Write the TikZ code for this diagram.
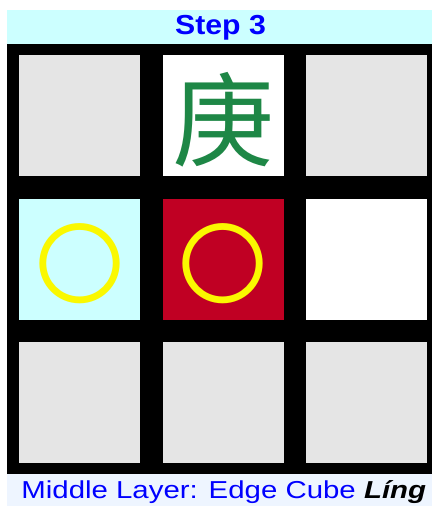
\documentclass[tikz,border=0pt]{standalone}
\usepackage{fontspec}
\setmainfont{Liberation Sans}
\newfontfamily\cjk{Noto Sans CJK SC}
\definecolor{bannercyan}{RGB}{204,255,255}
\definecolor{footblue}{RGB}{238,245,255}
\definecolor{cellgrey}{RGB}{229,229,229}
\definecolor{cellred}{RGB}{192,0,35}
\definecolor{ringyellow}{RGB}{250,248,0}
\definecolor{chargreen}{RGB}{30,135,70}
\definecolor{titleblue}{RGB}{0,0,255}
\tikzset{
  cellbox/.style={draw=none, minimum width=121pt, minimum height=121pt, inner sep=0pt, outer sep=0pt},
  ring/.style={inner sep=0pt, text=ringyellow, font=\cjk\fontsize{89}{89}\selectfont},
  glyph/.style={inner sep=0pt, text=chargreen, font=\cjk\fontsize{102}{102}\selectfont}
}
\begin{document}
\begin{tikzpicture}[x=1pt,y=-1pt]
\useasboundingbox (0,0) rectangle (432,506);
\fill[white] (0,0) rectangle (432,506);
\fill[bannercyan] (7,10) rectangle (432,44);
\fill[black] (7,44) rectangle (432,474);
\fill[footblue] (7,474) rectangle (432,506);
% cells
\node[cellbox, fill=cellgrey] (c11) at (79.5,115.5) {};
\node[cellbox, fill=white]    (c12) at (223.5,115.5) {};
\node[cellbox, fill=cellgrey] (c13) at (366.5,115.5) {};
\node[cellbox, fill=bannercyan] (c21) at (79.5,259.5) {};
\node[cellbox, fill=cellred]  (c22) at (223.5,259.5) {};
\node[cellbox, fill=white]    (c23) at (366.5,259.5) {};
\node[cellbox, fill=cellgrey] (c31) at (79.5,402.5) {};
\node[cellbox, fill=cellgrey] (c32) at (223.5,402.5) {};
\node[cellbox, fill=cellgrey] (c33) at (366.5,402.5) {};
% contents
\node[glyph] (geng) at (223,120) {庚};
\node[ring] (ring1) at (79.5,264) {〇};
\node[ring] (ring2) at (223,264) {〇};
% texts
\node[inner sep=0pt, anchor=base, text=titleblue, font=\bfseries\fontsize{27.5}{30}\selectfont] (title) at (220.5,34.5) {\scalebox{1.1}[1]{Step 3}};
\node[inner sep=0pt, anchor=base west, font=\fontsize{24.5}{28}\selectfont] (foot) at (21.2,498) {\scalebox{1.2}[1]{\textcolor{titleblue}{Middle Layer: Edge Cube }\textbf{\textit{Líng}}}};
\end{tikzpicture}
\end{document}
